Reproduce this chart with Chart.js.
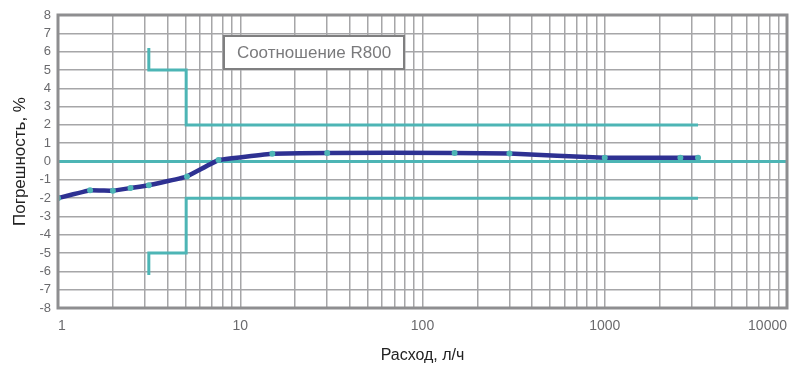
<!DOCTYPE html>
<html>
<head>
<meta charset="utf-8">
<script src="https://cdn.jsdelivr.net/npm/chart.js@4/dist/chart.umd.min.js"></script>
<style>
  html, body { margin: 0; padding: 0; background: #fff; }
  #wrap { width: 797px; height: 367px; }
</style>
</head>
<body>
<div id="wrap"><canvas id="chart"></canvas></div>
<script>
// measured curve
const flowValues = [1, 1.5, 2, 2.5, 3.15, 5.1, 7.6, 15, 30, 150, 300, 1000, 2600, 3250];
const errorValues = [-2.0, -1.57, -1.6, -1.45, -1.3, -0.82, 0.08, 0.42, 0.47, 0.47, 0.44, 0.2, 0.2, 0.2];

// error limits
const limitFlow = [3.15, 3.15, 5.05, 5.05, 3250];
const upperLimit = [6.2, 5, 5, 2, 2];
const lowerLimit = [-6.2, -5, -5, -2, -2];

const zeroFlow = [1, 10000];
const zeroValues = [0, 0];

const xTickLabels = [1, 10, 100, 1000, 10000];
const yTicks = [-8, -7, -6, -5, -4, -3, -2, -1, 0, 1, 2, 3, 4, 5, 6, 7, 8];
const boxText = 'Соотношение R800';

const TEAL = '#4db5b5';
const NAVY = '#2e3192';
const GRID = '#a6a6a8';
const FRAME = '#8e8e90';

function toPoints(xs, ys) {
  return xs.map((x, i) => ({ x: x, y: ys[i] }));
}

const framePlugin = {
  id: 'frame',
  afterDatasetsDraw(chart) {
    const { ctx, chartArea } = chart;
    ctx.save();
    ctx.strokeStyle = FRAME;
    ctx.lineWidth = 3;
    ctx.strokeRect(chartArea.left, chartArea.top, chartArea.right - chartArea.left, chartArea.bottom - chartArea.top);
    ctx.restore();
  },
  afterDraw(chart) {
    const { ctx, chartArea } = chart;
    const x = chartArea.left + 166;
    const y = chartArea.top + 21;
    const w = 180;
    const h = 33;
    ctx.save();
    ctx.fillStyle = '#fff';
    ctx.fillRect(x, y, w, h);
    ctx.strokeStyle = '#7f7f80';
    ctx.lineWidth = 2;
    ctx.strokeRect(x, y, w, h);
    ctx.fillStyle = '#7a7a7c';
    ctx.font = '17px "Liberation Sans", Arial, sans-serif';
    ctx.textAlign = 'center';
    ctx.textBaseline = 'middle';
    ctx.fillText(boxText, x + w / 2, y + h / 2 + 1);
    ctx.restore();
  }
};

const ctx = document.getElementById('chart').getContext('2d');

const chart = new Chart(ctx, {
  type: 'line',
  data: {
    datasets: [
      {
        data: toPoints(flowValues, errorValues),
        borderColor: NAVY,
        borderWidth: 4.5,
        tension: 0.05,
        pointRadius: 3,
        pointBackgroundColor: TEAL,
        pointBorderWidth: 0
      },
      {
        data: toPoints(limitFlow, upperLimit),
        borderColor: TEAL,
        borderWidth: 3,
        pointRadius: 0,
        tension: 0
      },
      {
        data: toPoints(limitFlow, lowerLimit),
        borderColor: TEAL,
        borderWidth: 3,
        pointRadius: 0,
        tension: 0
      },
      {
        data: toPoints(zeroFlow, zeroValues),
        borderColor: TEAL,
        borderWidth: 3,
        pointRadius: 0,
        tension: 0
      }
    ]
  },
  options: {
    animation: false,
    responsive: true,
    maintainAspectRatio: false,
    layout: {
      padding: { top: 15, right: 7, left: 0, bottom: 0 }
    },
    scales: {
      x: {
        type: 'logarithmic',
        min: 1,
        max: 10000,
        afterBuildTicks: (scale) => {
          const ticks = [];
          for (let d = 1; d < 10000; d *= 10) {
            for (let s = 1; s < 10; s++) ticks.push({ value: s * d });
          }
          ticks.push({ value: 10000 });
          scale.ticks = ticks;
        },
        afterFit: (scale) => { scale.height = 59; },
        grid: { color: GRID, lineWidth: 1.5, drawTicks: false },
        border: { display: false },
        ticks: {
          autoSkip: false,
          maxRotation: 0,
          align: 'inner',
          padding: 10,
          color: '#6a6a6d',
          font: { family: '"Liberation Sans", Arial, sans-serif', size: 14 },
          callback: (value) => xTickLabels.includes(value) ? String(value) : ''
        },
        title: {
          display: true,
          text: 'Расход, л/ч',
          color: '#222',
          font: { family: '"Liberation Sans", Arial, sans-serif', size: 16 },
          padding: { top: 4, bottom: 2 }
        }
      },
      y: {
        min: -8,
        max: 8,
        afterBuildTicks: (scale) => {
          scale.ticks = yTicks.map(v => ({ value: v }));
        },
        afterFit: (scale) => { scale.width = 58; },
        grid: { color: GRID, lineWidth: 1.5, drawTicks: false },
        border: { display: false },
        ticks: {
          autoSkip: false,
          padding: 7,
          color: '#6a6a6d',
          font: { family: '"Liberation Sans", Arial, sans-serif', size: 13 }
        },
        title: {
          display: true,
          text: 'Погрешность, %',
          color: '#222',
          font: { family: '"Liberation Sans", Arial, sans-serif', size: 17 },
          padding: { top: 10, bottom: 0 }
        }
      }
    },
    plugins: {
      legend: { display: false },
      tooltip: { enabled: false }
    }
  },
  plugins: [framePlugin]
});
</script>
</body>
</html>
